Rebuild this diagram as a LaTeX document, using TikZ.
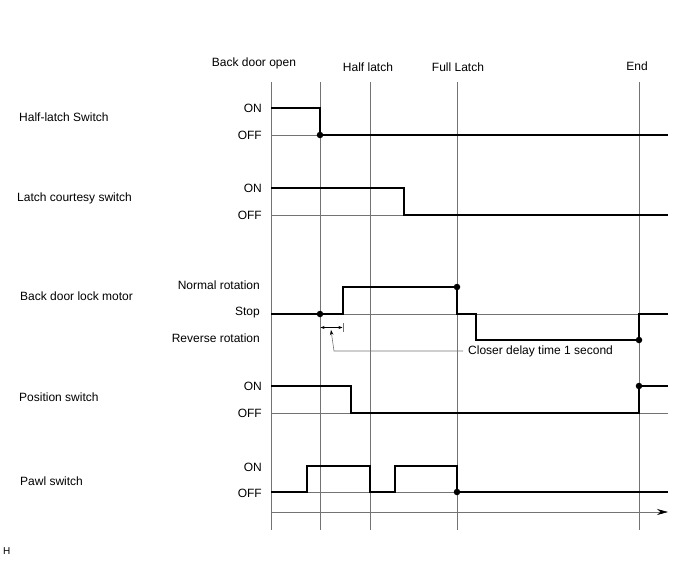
\documentclass[tikz,border=0pt]{standalone}
\usepackage{fontspec}
\setmainfont{Liberation Sans}
\usetikzlibrary{arrows.meta}

\begin{document}
\begin{tikzpicture}[
            x=1pt, y=-1pt,
            line cap=butt,
            line join=miter,
            >=Stealth,
            font=\fontsize{12}{14}\selectfont,
            grid/.style={gray!90!black, line width=0.6pt},
            signal/.style={black, line width=1.3pt},
            lvl/.style={anchor=east, inner sep=0pt},
            sig/.style={anchor=west, inner sep=0pt},
            dot/.style={circle, fill=black, inner sep=0pt, minimum size=6.5pt}
        ]

    \useasboundingbox (0,0) rectangle (688,560);

    % Time axis end
    \def\tEnd{668}

    % Event lines
    \foreach \x in {271,320,370,457,639}
        \draw[grid] (\x,82) -- (\x,530);

    \node[anchor=center] (open) at (254,63) {Back door open};
    \node[anchor=center] (half) at (368,67) {Half latch};
    \node[anchor=center] (full) at (458,67) {Full Latch};
    \node[anchor=center] (end)  at (637,66) {End};

    % Half-latch switch
    \node[sig] (hls) at (19,117) {Half-latch Switch};
    \node[lvl] (hlsOn)  at (262,108) {ON};
    \node[lvl] (hlsOff) at (262,135) {OFF};
    \draw[grid] (271,135) -- (\tEnd,135);
    \draw[signal] (271,108) -- (320,108) -- (320,135) -- (\tEnd,135);
    \node[dot] (hlsDot) at (320,135) {};

    % Latch courtesy switch
    \node[sig] (lcs) at (17,198) {Latch courtesy switch};
    \node[lvl] (lcsOn)  at (262,188) {ON};
    \node[lvl] (lcsOff) at (262,215) {OFF};
    \draw[grid] (271,215) -- (\tEnd,215);
    \draw[signal] (271,188) -- (404,188) -- (404,215) -- (\tEnd,215);

    % Back door lock motor
    \node[sig] (mot) at (20,296) {Back door lock motor};
    \node[lvl] (motNor) at (260,285) {Normal rotation};
    \node[lvl] (motStp) at (260,313) {Stop};
    \node[lvl] (motRev) at (260,338) {Reverse rotation};
    \draw[grid] (271,314) -- (\tEnd,314);
    \draw[signal] (271,314) -- (343,314) -- (343,287) -- (457,287)
        -- (457,314) -- (476,314) -- (476,340) -- (639,340)
        -- (639,314) -- (\tEnd,314);
    \node[dot] (motA) at (320,314) {};
    \node[dot] (motB) at (457,287) {};
    \node[dot] (motC) at (639,340) {};

    % Closer delay
    \draw[grid] (320,323) -- (320,332);
    \draw[grid] (343,323) -- (343,332);
    \draw[black, line width=0.6pt, {Stealth[length=4pt,width=3pt]}-{Stealth[length=4pt,width=3pt]}]
        (320.5,327.5) -- (342.5,327.5);
    \node[sig] (delay) at (468,351) {Closer delay time 1 second};
    \coordinate (bend) at (334,351);
    \draw[grid, -{Stealth[length=5pt,width=3.5pt,black]}]
        (delay.west) ++(-5,0) -- (bend) -- (331,330);

    % Position switch
    \node[sig] (pos) at (19,397) {Position switch};
    \node[lvl] (posOn)  at (262,386) {ON};
    \node[lvl] (posOff) at (262,413) {OFF};
    \draw[grid] (271,413) -- (\tEnd,413);
    \draw[signal] (271,386) -- (351,386) -- (351,413) -- (639,413)
        -- (639,386) -- (\tEnd,386);
    \node[dot] (posDot) at (639,386) {};

    % Pawl switch
    \node[sig] (paw) at (20,481) {Pawl switch};
    \node[lvl] (pawOn)  at (262,467) {ON};
    \node[lvl] (pawOff) at (262,493) {OFF};
    \draw[grid] (271,492) -- (\tEnd,492);
    \draw[signal] (271,492) -- (307,492) -- (307,466) -- (370,466)
        -- (370,492) -- (395,492) -- (395,466) -- (457,466)
        -- (457,492) -- (\tEnd,492);
    \node[dot] (pawDot) at (457,492) {};

    % Time arrow
    \draw[grid, -{Stealth[length=11pt,width=6pt,black]}] (271,512) -- (\tEnd,512);

    \node[sig, font=\fontsize{10}{11}\selectfont] (tag) at (3,551) {H};

\end{tikzpicture}
\end{document}
